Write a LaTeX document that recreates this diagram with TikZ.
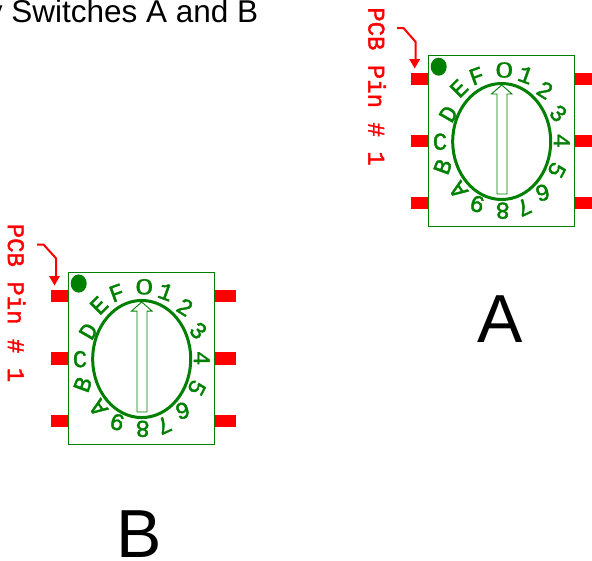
\documentclass[tikz,border=0pt]{standalone}
\usepackage{fontspec}
\setmainfont{Liberation Sans}
\newfontfamily\pcbfont[FakeBold=1.6]{Liberation Mono}
\newfontfamily\zerofont[FakeBold=0.6]{Liberation Sans}
\definecolor{pcbgreen}{RGB}{0,128,0}
\definecolor{pcbred}{RGB}{255,0,0}
\tikzset{
  x=1pt,y=-1pt,
  bodybox/.style={draw=pcbgreen,line width=1pt,fill=white},
  pinpad/.style={fill=pcbred,draw=none},
  knob/.style={draw=pcbgreen,line width=3pt},
  pointer/.style={draw=pcbgreen,line width=.9pt,fill=white},
  dotmark/.style={fill=pcbgreen,draw=none},
  dial/.style={text=pcbgreen,inner sep=0pt,font=\pcbfont\fontsize{24}{24}\selectfont},
  dialzero/.style={text=pcbgreen,inner sep=0pt,font=\zerofont\fontsize{22}{22}\selectfont},
  pinlabel/.style={text=pcbred,inner sep=0pt,rotate=-90,font=\pcbfont\fontsize{24}{24}\selectfont},
  pinarrow/.style={draw=pcbred,line width=2pt},
  arrowhead/.style={fill=pcbred,draw=none},
  caption/.style={inner sep=0pt,font=\fontsize{68}{68}\selectfont},
  title/.style={inner sep=0pt,font=\fontsize{31.5}{31.5}\selectfont}
}
\newcommand{\rotswitch}[1]{%
  \draw[bodybox] (428.5,55.5) rectangle (574.5,226.5);
  \foreach \yy/\nn in {73/1,135/2,197/3}{
    \fill[pinpad] (411,\yy) rectangle (428,\yy+12);
    \fill[pinpad] (575,\yy) rectangle (596,\yy+12);
  }
  \fill[dotmark] (438.7,66.7) ellipse [x radius=8,y radius=9];
  \draw[knob] (501.7,141.5) ellipse [x radius=49,y radius=58];
  \draw[pointer] (497,194) -- (497,94) -- (491.5,94) -- (501.7,85) -- (512,94) -- (507,94) -- (507,194) -- cycle;
  \node[dialzero,xscale=1.45] (#1lab0) at (504.3,70) {0};
  \foreach \t/\px/\py/\rr in {1/525.7/75/-20,2/545/90/-32,3/558.3/113.3/-45,4/561.7/140.7/-90,5/556.7/170/-118,6/542.7/192.7/-165,7/524/207.3/-155,8/502.7/210.7/180,9/477.3/204/165,A/458.3/190/125,B/442.7/166.7/70,C/440/141.7/0,D/448.3/114/60,E/459/88.3/45,F/476.7/76/20}{
    \node[dial,rotate=\rr] (#1lab\t) at (\px,\py) {\t};
  }
}
\begin{document}
\begin{tikzpicture}
\useasboundingbox (0,0) rectangle (592,560);
\clip (0,0) rectangle (592,560);
\node[title,anchor=base west] (heading) at (-13.3,22) {y Switches A and B};
% Switch A
\rotswitch{a}
\node[pinlabel] (pinA) at (377,86.5) {PCB Pin \# 1};
\coordinate (aS) at (397,28);
\coordinate (aM) at (403.5,28);
\coordinate (aN) at (415.7,42);
\coordinate (aE) at (415.7,60);
\coordinate (aT) at (414.7,68.5);
\draw[pinarrow] (aS) -- (aM) -- (aN) -- (aE);
\fill[arrowhead] (aT) -- ++(-5.5,-9.5) -- ++(11,0) -- cycle;
\node[caption,anchor=base] (capA) at (500,342) {A};
% Switch B
\begin{scope}[xshift=-360pt,yshift=-216.2pt,yscale=1.0093]
\rotswitch{b}
\end{scope}
\node[pinlabel] (pinB) at (16.5,303) {PCB Pin \# 1};
\coordinate (bS) at (37,244.5);
\coordinate (bM) at (43.5,244.5);
\coordinate (bN) at (56.2,258.5);
\coordinate (bE) at (56.2,277);
\coordinate (bT) at (54.5,285.5);
\draw[pinarrow] (bS) -- (bM) -- (bN) -- (bE);
\fill[arrowhead] (bT) -- ++(-5.5,-9.5) -- ++(11,0) -- cycle;
\node[caption,anchor=base] (capB) at (139.5,557) {B};
\end{tikzpicture}
\end{document}
